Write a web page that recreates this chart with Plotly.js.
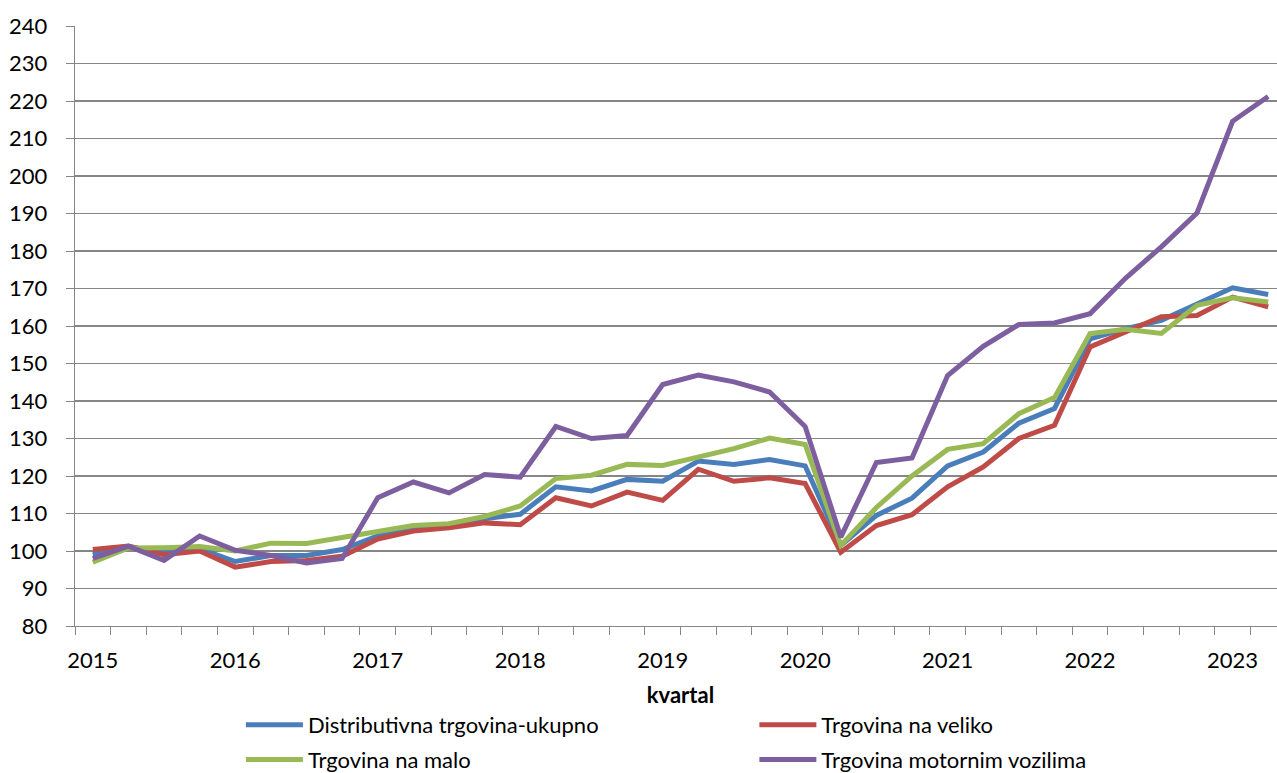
<!DOCTYPE html>
<html>
<head>
<meta charset="utf-8">
<script src="https://cdn.plot.ly/plotly-3.0.1.min.js"></script>
<style>
html,body{margin:0;padding:0;overflow:hidden;background:#fff;width:1277px;height:773px;}
#chart{width:1290px;height:773px;}
</style>
</head>
<body>
<div id="chart"></div>
<script>
const years = [2015,2016,2017,2018,2019,2020,2021,2022,2023];
const quarters = ["Q1","Q2","Q3","Q4"];
const categories = [];
years.forEach(y => quarters.forEach(q => categories.push(y + q)));
categories.length = 34; // 2015Q1 .. 2023Q2
const tickLabels = categories.map(c => c.endsWith("Q1") ? c.slice(0,4) : "");

const seriesNames = ["Distributivna trgovina-ukupno","Trgovina na veliko","Trgovina na malo","Trgovina motornim vozilima"];
const distributivna = [99.0,101.1,99.7,100.6,97.2,98.8,98.8,100.4,104.0,106.0,106.4,108.6,109.8,117.1,116.0,119.1,118.6,124.0,123.1,124.4,122.7,101.5,109.5,114.1,122.7,126.4,134.1,138.0,156.6,159.3,161.5,166.0,170.2,168.4];
const naVeliko = [100.4,101.3,99.0,100.0,95.7,97.2,97.5,98.6,103.2,105.3,106.2,107.5,107.0,114.2,112.0,115.7,113.5,121.8,118.6,119.5,118.0,99.7,106.8,109.7,117.1,122.4,130.0,133.5,154.4,158.6,162.5,162.8,167.7,165.1];
const naMalo = [97.0,100.8,100.9,101.2,100.0,102.1,102.0,103.5,105.2,106.8,107.3,109.2,112.0,119.3,120.2,123.1,122.8,125.1,127.3,130.1,128.4,101.5,111.6,120.0,127.1,128.6,136.6,140.9,158.0,159.1,158.0,165.5,167.5,166.4];
const motornim = [98.0,101.3,97.5,104.0,100.2,98.8,96.8,98.0,114.2,118.4,115.5,120.4,119.7,133.2,130.0,130.8,144.4,146.9,145.1,142.4,133.2,103.7,123.6,124.8,146.8,154.6,160.4,160.8,163.3,172.8,181.1,190.1,214.6,221.2];

const colors = ["#4A7EBB","#BE4B48","#98B954","#7D5FA0"];
const values = [distributivna, naVeliko, naMalo, motornim];
const legends = ["legend","legend2","legend","legend2"];

const traces = values.map((v,i) => ({
  x: categories, y: v, name: seriesNames[i], type: "scatter", mode: "lines",
  line: {color: colors[i], width: 5}, legend: legends[i], legendgroup: "g"+i
}));

const font = {family: "Lato, 'Liberation Sans', sans-serif", size: 22, color: "#000"};
const layout = {
  width: 1290, height: 773,
  margin: {l: 75, r: 4, t: 26, b: 147, autoexpand: false},
  paper_bgcolor: "#fff", plot_bgcolor: "#fff",
  font: font,
  showlegend: true,
  xaxis: {
    type: "category", tickmode: "array", tickvals: categories, ticktext: tickLabels,
    tickson: "boundaries", ticks: "outside", ticklen: 8, tickcolor: "#868686",
    showgrid: false, showline: true, linecolor: "#868686", linewidth: 1.3,
    range: [-0.5, 33.5], tickangle: 0, ticklabelstandoff: 14, automargin: false,
    tickfont: {size: 22},
    title: {text: "<b>kvartal</b>", font: {size: 22}, standoff: 16}
  },
  yaxis: {
    range: [80, 240], tickvals: [80,90,100,110,120,130,140,150,160,170,180,190,200,210,220,230,240],
    ticks: "outside", ticklen: 8, tickcolor: "#868686", automargin: false,
    showgrid: true, gridcolor: "#868686", gridwidth: 1.3,
    showline: true, linecolor: "#868686", linewidth: 1.3, zeroline: false,
    ticklabelstandoff: 14, tickfont: {size: 22}
  },
  legend: {x: 0.137, xanchor: "left", y: -0.13, yanchor: "top", orientation: "v",
    itemwidth: 57, tracegroupgap: 3, traceorder: "grouped", font: {size: 22}, bgcolor: "rgba(0,0,0,0)"},
  legend2: {x: 0.561, xanchor: "left", y: -0.13, yanchor: "top", orientation: "v",
    itemwidth: 57, tracegroupgap: 3, traceorder: "grouped", font: {size: 22}, bgcolor: "rgba(0,0,0,0)"}
};

Plotly.newPlot("chart", traces, layout, {displayModeBar: false, staticPlot: true});
</script>
</body>
</html>
